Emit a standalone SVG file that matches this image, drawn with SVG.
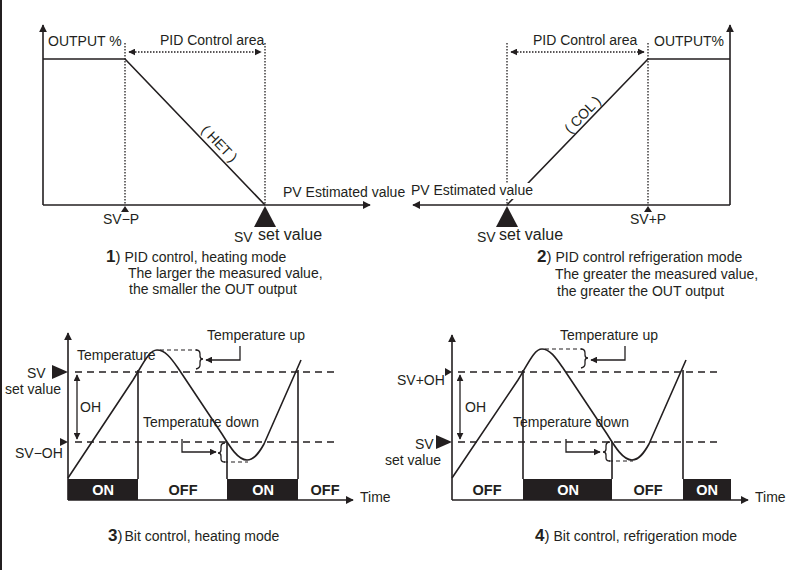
<svg xmlns="http://www.w3.org/2000/svg" width="800" height="570" viewBox="0 0 800 570">
<defs>
<marker id="ah" viewBox="0 0 10 10" refX="9" refY="5" markerWidth="8" markerHeight="8" markerUnits="userSpaceOnUse" orient="auto-start-reverse"><path d="M0,0 L10,5 L0,10 z" fill="#231f20"/></marker>
<marker id="ahs" viewBox="0 0 10 10" refX="9" refY="5" markerWidth="7" markerHeight="7" markerUnits="userSpaceOnUse" orient="auto-start-reverse"><path d="M0,0 L10,5 L0,10 z" fill="#231f20"/></marker>
<style>
text{font-family:"Liberation Sans",Arial,sans-serif;font-size:14px;fill:#231f20}
.ax{stroke:#231f20;stroke-width:1.6;fill:none}
.ln{stroke:#231f20;stroke-width:1.6;fill:none}
.dot{stroke:#231f20;stroke-width:1.3;stroke-dasharray:1.5 1.5;fill:none}
.dash{stroke:#231f20;stroke-width:1.5;stroke-dasharray:7 5;fill:none}
.sdash{stroke:#231f20;stroke-width:1.2;stroke-dasharray:4 3;fill:none}
.thin{stroke:#231f20;stroke-width:1.3;fill:none}
.blk{fill:#231f20}
.num{font-weight:bold;font-size:17px}
.big{font-size:16px}
.bar{font-weight:bold;font-size:14.5px;text-anchor:middle}
.wt{fill:#ffffff}
</style>
</defs>
<rect x="0" y="0" width="800" height="570" fill="#ffffff"/>
<rect x="0" y="0" width="2" height="570" fill="#231f20"/>

<g id="panel1">
<g id="p1-connectors">
<line class="ax" x1="43" y1="205" x2="43" y2="25" marker-end="url(#ah)"/>
<line class="ax" x1="43" y1="205" x2="370" y2="205" marker-end="url(#ah)"/>
<polyline class="ln" points="43,59 125,59 265,205"/>
<line class="dot" x1="125" y1="43" x2="125" y2="205"/>
<line class="dot" x1="265" y1="43" x2="265" y2="205"/>
<line class="dot" x1="129" y1="52" x2="261" y2="52" marker-start="url(#ahs)" marker-end="url(#ahs)"/>
</g>
<text x="48" y="46">OUTPUT %</text>
<text x="160" y="45">PID Control area</text>
<text x="283" y="197">PV Estimated value</text>
<text transform="translate(216,147) rotate(46)" text-anchor="middle" font-size="13">( HET )</text>
<path class="blk" d="M125,206 L121,212 L129,212 z"/>
<text x="103" y="224">SV−P</text>
<path class="blk" d="M265,206 L254,227 L276,227 z"/>
<text x="234" y="242" font-size="15">SV</text>
<text x="258" y="240" class="big">set value</text>
</g>

<g id="panel2">
<g id="p2-connectors">
<line class="ax" x1="730" y1="205" x2="730" y2="25" marker-end="url(#ah)"/>
<line class="ax" x1="730" y1="205" x2="413" y2="205" marker-end="url(#ah)"/>
<polyline class="ln" points="730,59 648,59 507,205"/>
<line class="dot" x1="507" y1="43" x2="507" y2="205"/>
<line class="dot" x1="648" y1="43" x2="648" y2="205"/>
<line class="dot" x1="511" y1="52" x2="644" y2="52" marker-start="url(#ahs)" marker-end="url(#ahs)"/>
</g>
<text x="533" y="45">PID Control area</text>
<text x="654" y="46">OUTPUT%</text>
<rect x="409" y="183" width="126" height="16" fill="#ffffff"/>
<text x="411" y="195" textLength="122">PV Estimated value</text>
<text transform="translate(586,118) rotate(-46)" text-anchor="middle" font-size="13">( COL )</text>
<path class="blk" d="M648,206 L644,212 L652,212 z"/>
<text x="630" y="224">SV+P</text>
<path class="blk" d="M507,206 L496,227 L518,227 z"/>
<text x="477" y="242" font-size="15">SV</text>
<text x="499" y="240" class="big">set value</text>
</g>

<g id="caption1">
<text x="106" y="262"><tspan class="num">1</tspan><tspan font-size="15">)</tspan><tspan dx="4">PID control, heating mode</tspan></text>
<text x="128" y="278">The larger the measured value,</text>
<text x="129" y="294">the smaller the OUT output</text>
</g>
<g id="caption2">
<text x="537" y="262"><tspan class="num">2</tspan><tspan font-size="15">)</tspan><tspan dx="4">PID control refrigeration mode</tspan></text>
<text x="555" y="279">The greater the measured value,</text>
<text x="557" y="296">the greater the OUT output</text>
</g>

<g id="panel3">
<rect x="68" y="479" width="70" height="21" class="blk"/>
<rect x="227" y="479" width="71" height="21" class="blk"/>
<g id="p3-connectors">
<line class="ax" x1="68" y1="500" x2="68" y2="333" marker-end="url(#ah)"/>
<line class="ax" x1="68" y1="500" x2="353" y2="500" marker-end="url(#ah)"/>
<line class="dash" x1="75" y1="372" x2="335" y2="372"/>
<line class="dash" x1="75" y1="442" x2="335" y2="442"/>
<line class="ln" x1="138" y1="370" x2="138" y2="479"/>
<line class="ln" x1="227" y1="442" x2="227" y2="479"/>
<line class="ln" x1="298" y1="370" x2="298" y2="479"/>
<line class="thin" x1="77" y1="375" x2="77" y2="439" marker-start="url(#ahs)" marker-end="url(#ahs)"/>
<path class="ln" d="M68,478 L133,380 C143,364 149,350 157,350 C165,350 171,358 178,368 L222,434 C230,447 238,460 247,460 C254,460 259,453 264,444 L301,360"/>
<line class="sdash" x1="160" y1="350" x2="197" y2="350"/>
<path class="thin" d="M196,350 Q200,350 200,354 L200,356 Q200,359 203,359 Q200,359 200,362 L200,365 Q200,368 196,369"/>
<polyline class="thin" points="240,346 240,360 206,360" marker-end="url(#ahs)"/>
<line class="sdash" x1="224" y1="462" x2="248" y2="462"/>
<path class="thin" d="M225,443 Q221,443 221,447 L221,450 Q221,453 218,453 Q221,453 221,456 L221,459 Q221,462 225,462"/>
<polyline class="thin" points="182,439 182,452 216,452" marker-end="url(#ahs)"/>
</g>
<path class="blk" d="M52,365 L52,379 L68,372 z"/>
<path class="blk" d="M60,438 L60,446 L68,442 z"/>
<text x="27" y="378">SV</text>
<text x="5" y="394">set value</text>
<text x="15" y="458">SV−OH</text>
<text x="80" y="412">OH</text>
<text x="77" y="360">Temperature</text>
<text x="207" y="340">Temperature up</text>
<text x="143" y="427">Temperature down</text>
<text x="103" y="495" class="bar wt">ON</text>
<text x="183" y="495" class="bar">OFF</text>
<text x="263" y="495" class="bar wt">ON</text>
<text x="325" y="495" class="bar">OFF</text>
<text x="360" y="502">Time</text>
</g>

<g id="panel4">
<rect x="523" y="479" width="89" height="21" class="blk"/>
<rect x="683" y="479" width="48" height="21" class="blk"/>
<g id="p4-connectors">
<line class="ax" x1="452" y1="500" x2="452" y2="335" marker-end="url(#ah)"/>
<line class="ax" x1="452" y1="500" x2="748" y2="500" marker-end="url(#ah)"/>
<line class="dash" x1="458" y1="372" x2="720" y2="372"/>
<line class="dash" x1="458" y1="442" x2="720" y2="442"/>
<line class="ln" x1="523" y1="370" x2="523" y2="479"/>
<line class="ln" x1="612" y1="442" x2="612" y2="479"/>
<line class="ln" x1="683" y1="370" x2="683" y2="479"/>
<line class="thin" x1="460" y1="375" x2="460" y2="439" marker-start="url(#ahs)" marker-end="url(#ahs)"/>
<g transform="translate(385,0)">
<path class="ln" d="M67,478 L133,380 C143,364 149,349 157,349 C165,349 171,358 178,368 L222,434 C230,447 238,460 247,460 C254,460 259,453 264,444 L301,360"/>
<line class="sdash" x1="160" y1="349" x2="197" y2="349"/>
<path class="thin" d="M196,349 Q200,349 200,353 L200,355 Q200,358 203,358 Q200,358 200,361 L200,364 Q200,367 196,368"/>
<polyline class="thin" points="240,346 240,360 206,360" marker-end="url(#ahs)"/>
<line class="sdash" x1="224" y1="461" x2="248" y2="461"/>
<path class="thin" d="M225,442 Q221,442 221,446 L221,449 Q221,452 218,452 Q221,452 221,455 L221,458 Q221,461 225,461"/>
<polyline class="thin" points="181,439 181,452 215,452" marker-end="url(#ahs)"/>
</g>
</g>
<path class="blk" d="M445,368 L445,376 L452,372 z"/>
<path class="blk" d="M436,435 L436,449 L452,442 z"/>
<text x="397" y="385">SV+OH</text>
<text x="415" y="449">SV</text>
<text x="385" y="465">set value</text>
<text x="465" y="412">OH</text>
<text x="560" y="340">Temperature up</text>
<text x="513" y="427">Temperature down</text>
<text x="487" y="495" class="bar">OFF</text>
<text x="568" y="495" class="bar wt">ON</text>
<text x="648" y="495" class="bar">OFF</text>
<text x="707" y="495" class="bar wt">ON</text>
<text x="755" y="502">Time</text>
</g>

<g id="caption3">
<text x="108" y="541"><tspan class="num">3</tspan><tspan font-size="15">)</tspan><tspan dx="2">Bit control, heating mode</tspan></text>
</g>
<g id="caption4">
<text x="535" y="541"><tspan class="num">4</tspan><tspan font-size="15">)</tspan><tspan dx="4">Bit control, refrigeration mode</tspan></text>
</g>
</svg>
